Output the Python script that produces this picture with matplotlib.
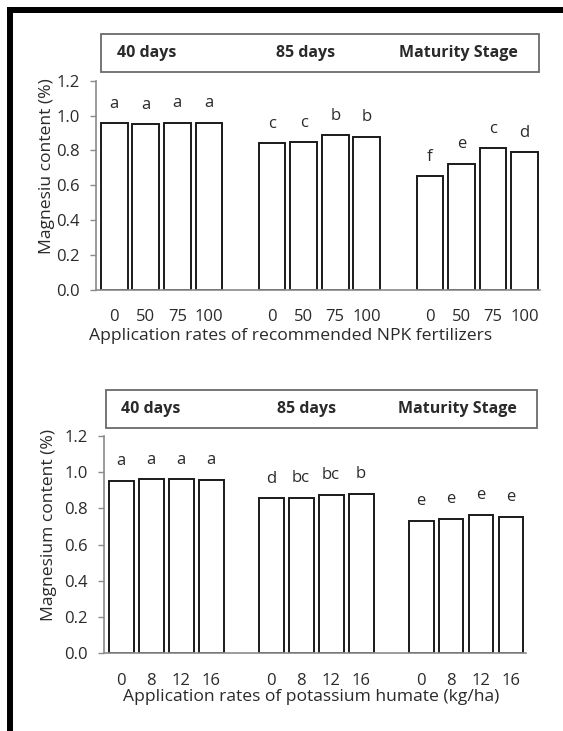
import matplotlib
matplotlib.use("Agg")
import matplotlib.pyplot as plt
from matplotlib.patches import Rectangle
from matplotlib.lines import Line2D
import numpy as np

plt.rcParams['font.family'] = ['Open Sans', 'DejaVu Sans']

stages = ["40 days", "85 days", "Maturity Stage"]

# Top panel: NPK fertilizer rates
npk_rates = ["0", "50", "75", "100"]
npk_values = [
    [0.955, 0.95, 0.96, 0.96],
    [0.84, 0.85, 0.89, 0.88],
    [0.655, 0.725, 0.815, 0.79],
]
npk_letters = [
    ["a", "a", "a", "a"],
    ["c", "c", "b", "b"],
    ["f", "e", "c", "d"],
]

# Bottom panel: potassium humate rates
kh_rates = ["0", "8", "12", "16"]
kh_values = [
    [0.95, 0.96, 0.96, 0.955],
    [0.855, 0.86, 0.875, 0.88],
    [0.73, 0.74, 0.765, 0.755],
]
kh_letters = [
    ["a", "a", "a", "a"],
    ["d", "bc", "bc", "b"],
    ["e", "e", "e", "e"],
]

yticks = [0.0, 0.2, 0.4, 0.6, 0.8, 1.0, 1.2]

TXT = "#2a2a2a"
FS = 12
LFS = 12.6

fig = plt.figure(figsize=(5.63, 7.31), dpi=100)

# outer border (top and left)
fig.add_artist(Line2D([7/563, 1.0], [1 - 10/731, 1 - 10/731], transform=fig.transFigure,
                      color="black", lw=4.3, solid_capstyle="butt"))
fig.add_artist(Line2D([10/563, 10/563], [0, 1 - 7/731], transform=fig.transFigure,
                      color="black", lw=4.3, solid_capstyle="butt"))


def panel(rect, values, letters, rates, ylabel, xlabel, ylab_x, xlab_xy, width, box, stage_x):
    ax = fig.add_axes(rect)
    pos = []
    vals = []
    labs = []
    ticklabels = []
    for g in range(3):
        for i in range(4):
            pos.append(g * 5 + i)
            vals.append(values[g][i])
            labs.append(letters[g][i])
            ticklabels.append(rates[i])
    ax.bar(pos, vals, width=width, color="white", edgecolor="#1a1a1a", linewidth=1.4)
    for p, v, l in zip(pos, vals, labs):
        ax.text(p, v + 0.11, l, ha="center", va="center", fontsize=FS, color=TXT)
    ax.set_xlim(-0.57, 13.5)
    ax.set_ylim(0, 1.2)
    ax.set_yticks(yticks)
    ax.set_yticklabels([f"{t:.1f}" for t in yticks])
    ax.set_xticks(pos)
    ax.set_xticklabels(ticklabels)
    for s in ["top", "right"]:
        ax.spines[s].set_visible(False)
    for s in ["left", "bottom"]:
        ax.spines[s].set_color("#8a8a8a")
        ax.spines[s].set_linewidth(1.2)
    ax.tick_params(axis="x", length=0, pad=14, labelsize=FS, labelcolor=TXT)
    ax.tick_params(axis="y", length=4, width=1.0, color="#8a8a8a", pad=8, labelsize=FS, labelcolor=TXT)
    ax.set_ylabel(ylabel, fontsize=LFS, color=TXT)
    ax.yaxis.label.set_va("center")
    ax.yaxis.set_label_coords(ylab_x, 0.59)
    ax.set_xlabel(xlabel, fontsize=LFS, color=TXT)
    ax.xaxis.label.set_va("center")
    ax.xaxis.set_label_coords(*xlab_xy)
    # header box
    x0, x1, y0, y1 = box
    fig.add_artist(Rectangle((x0, y0), x1 - x0, y1 - y0, transform=fig.transFigure,
                             facecolor="white", edgecolor="#6a6a6a", lw=1.3))
    for st, sx in zip(stages, stage_x):
        fig.text(sx, (y0 + y1) / 2, st, ha="center", va="center", fontsize=11.5,
                 fontweight="bold", color=TXT)
    return ax


panel([0.1709, 0.6033, 0.9599 - 0.1709, 0.8896 - 0.6033], npk_values, npk_letters, npk_rates,
      "Magnesiu content (%)", "Application rates of recommended NPK fertilizers",
      -0.11, (0.4386, -0.22), 0.85,
      (0.180, 0.9567, 0.9015, 0.9535), [147/563, 306/563, 458/563])

panel([0.1849, 0.1063, 0.9343 - 0.1849, 0.4036 - 0.1063], kh_values, kh_letters, kh_rates,
      "Magnesium content (%)", "Application rates of potassium humate (kg/ha)",
      -0.13, (0.4916, -0.2), 0.83,
      (0.188, 0.9535, 0.4145, 0.4665), [150.8/563, 307/563, 457.8/563])

fig.savefig("out.png", dpi=100, facecolor="white")
